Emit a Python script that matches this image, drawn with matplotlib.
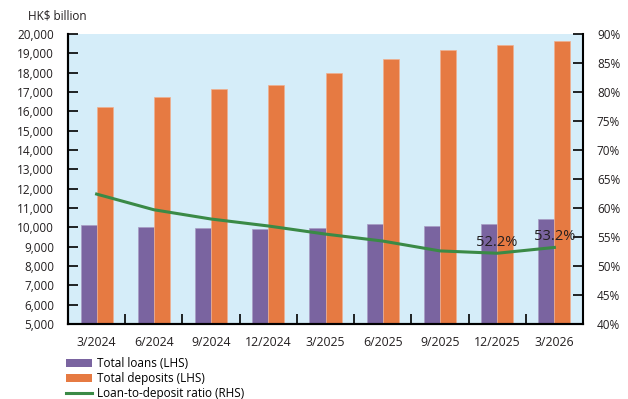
import numpy as np
import matplotlib
matplotlib.use("Agg")
import matplotlib.pyplot as plt
from matplotlib.patches import Patch
from matplotlib.lines import Line2D

plt.rcParams['font.family'] = ['Open Sans', 'DejaVu Sans']

quarters = ['3/2024', '6/2024', '9/2024', '12/2024', '3/2025',
            '6/2025', '9/2025', '12/2025', '3/2026']
total_loans = [10120, 10000, 9980, 9915, 9980, 10170, 10085, 10150, 10445]
total_deposits = [16220, 16750, 17170, 17380, 18000, 18705, 19155, 19450, 19640]
ltd_ratio = [62.4, 59.7, 58.1, 56.9, 55.5, 54.3, 52.6, 52.2, 53.2]
labelled = {7: '52.2%', 8: '53.2%'}

purple = '#7a64a0'
orange = '#e67a42'
green = '#3a8a46'
bg = '#d5edf9'

fig = plt.figure(figsize=(6.28, 3.99), dpi=100)
ax = fig.add_axes([68 / 628, 75 / 399, 515 / 628, 290 / 399])
ax.set_facecolor(bg)

x = np.arange(len(quarters))
w = 0.28
ax.bar(x - w / 2, total_loans, w, color=purple, edgecolor='#a89cc4', linewidth=0.5)
ax.bar(x + w / 2, total_deposits, w, color=orange, edgecolor='#f0b090', linewidth=0.5)

ax.set_ylim(5000, 20000)
ax.set_xlim(-0.5, len(quarters) - 0.5)
ax.set_yticks(np.arange(5000, 20001, 1000))
ax.set_yticklabels([f'{v:,}' for v in range(5000, 20001, 1000)])

# ticks between quarters, labels at the centre
ax.set_xticks(x[:-1] + 0.5)
ax.set_xticklabels([])
ax.set_xticks(x, minor=True)
ax.set_xticklabels(quarters, minor=True)
ax.tick_params(axis='x', which='major', direction='in', length=7, width=1.2, color='black')
ax.tick_params(axis='x', which='minor', length=0, pad=9, labelsize=8.8, colors='#231f20')
ax.tick_params(axis='y', direction='in', length=7, width=1.2, pad=10, labelsize=8.5,
               colors='black', labelcolor='#231f20')

ax2 = ax.twinx()
ax2.plot(x, ltd_ratio, color=green, linewidth=2.2)
for i, t in labelled.items():
    ax2.text(x[i], ltd_ratio[i] + 0.6, t, ha='center', va='bottom', fontsize=10.5,
             color='#231f20')
ax2.set_ylim(40, 90)
ax2.set_yticks(np.arange(40, 91, 5))
ax2.set_yticklabels([f'{v}%' for v in range(40, 91, 5)])
ax2.tick_params(axis='y', direction='in', length=7, width=1.2, pad=10, labelsize=8.5,
                colors='black', labelcolor='#231f20')

for a in (ax, ax2):
    a.spines['top'].set_visible(False)
    for s in ('left', 'right', 'bottom'):
        a.spines[s].set_linewidth(1.5)
        a.spines[s].set_color('black')
ax.spines['right'].set_visible(False)

fig.text(28 / 628, 1 - 16 / 399, 'HK\\$ billion', ha='left', va='center', fontsize=8.5,
         color='#231f20')

handles = [Patch(facecolor=purple, label='Total loans (LHS)'),
           Patch(facecolor=orange, label='Total deposits (LHS)'),
           Line2D([], [], color=green, linewidth=2.2, label='Loan-to-deposit ratio (RHS)')]
fig.legend(handles=handles, loc='upper left', bbox_to_anchor=(59 / 628, 1 - 350 / 399),
           frameon=False, fontsize=8.5, handlelength=2.2, handleheight=0.6,
           labelspacing=0.16, handletextpad=0.4, borderaxespad=0.2)

fig.savefig('out.png', dpi=100)
